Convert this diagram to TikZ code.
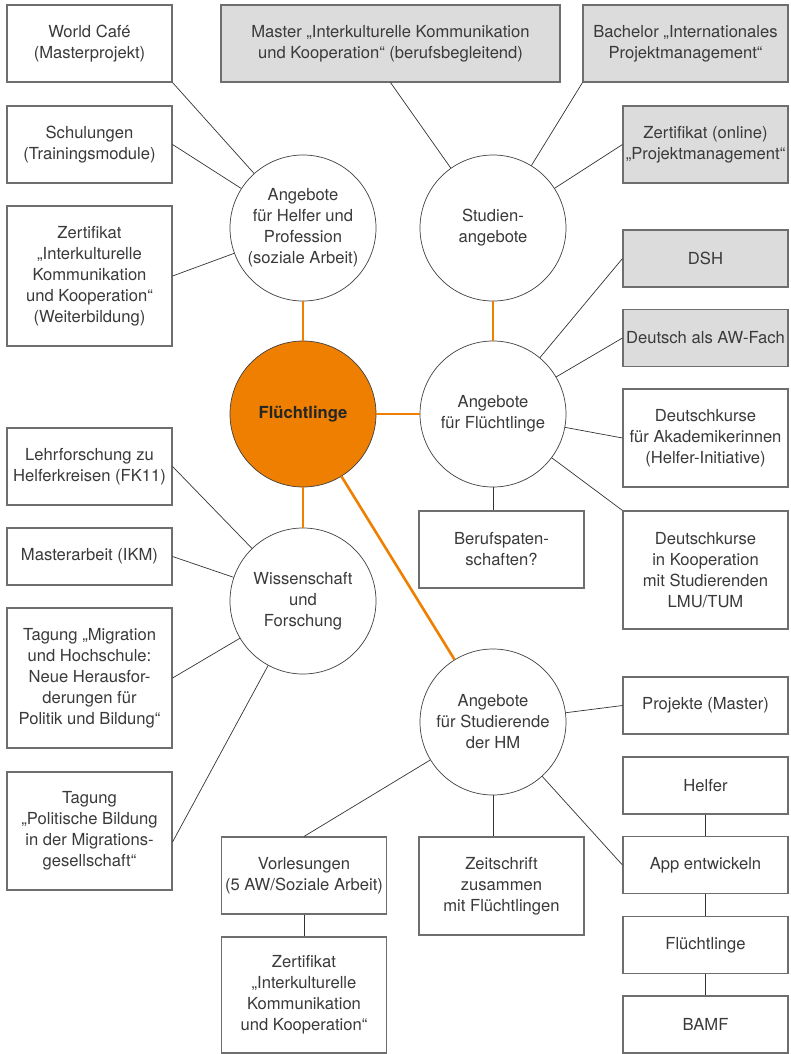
\documentclass[tikz,border=0pt]{standalone}
\usepackage{fontspec}
\setmainfont{TeX Gyre Heros}
\definecolor{hmorange}{HTML}{EE7F00}
\definecolor{txtgray}{HTML}{3A3A3A}
\definecolor{boxfill}{HTML}{DCDCDC}
\definecolor{boxline}{HTML}{6E6E6E}
\begin{document}
\begin{tikzpicture}[x=1pt,y=-1pt,
    every node/.style={font=\fontsize{16.6}{21}\selectfont,text=txtgray,align=center,inner sep=0pt},
    box/.style={draw=boxline,line width=1.1pt,fill=white,minimum width=165pt},
    greybox/.style={box,fill=boxfill},
    topic/.style={circle,draw=black!75,line width=0.7pt,fill=white,minimum size=146pt},
    link/.style={black!80,line width=0.7pt},
    hub/.style={hmorange,line width=2.6pt}]
    \useasboundingbox (0,0) rectangle (790,1054);
    % topics
    \node[topic] (helfer) at (303,228) {Angebote\\für Helfer und\\Profession\\(soziale Arbeit)};
    \node[topic] (studien) at (493,228) {Studien-\\angebote};
    \node[topic,fill=hmorange] (fluecht) at (303,414) {\bfseries\color{black!85}Flüchtlinge};
    \node[topic] (afl) at (493,414) {Angebote\\für Flüchtlinge};
    \node[topic] (wiss) at (303,601) {Wissenschaft\\und\\Forschung};
    \node[topic] (stud) at (493,722) {Angebote\\für Studierende\\der HM};
    % left column
    \node[box,minimum height=77pt] (wcafe) at (89.5,43.5) {World Café\\(Masterprojekt)};
    \node[box,minimum height=77pt] (schul) at (89.5,144.5) {Schulungen\\(Trainingsmodule)};
    \node[box,minimum height=140pt] (zweit) at (89.5,276) {Zertifikat\\„Interkulturelle\\Kommunikation\\und Kooperation“\\(Weiterbildung)};
    \node[box,minimum height=77pt] (lehr) at (89.5,466.5) {Lehrforschung zu\\Helferkreisen (FK11)};
    \node[box,minimum height=57pt] (marb) at (89.5,556.5) {Masterarbeit (IKM)};
    \node[box,minimum height=140pt] (tmig) at (89.5,678) {Tagung „Migration\\und Hochschule:\\Neue Herausfor-\\derungen für\\Politik und Bildung“};
    \node[box,minimum height=118pt] (tpol) at (89.5,831) {Tagung\\„Politische Bildung\\in der Migrations-\\gesellschaft“};
    % top row and right column
    \node[greybox,minimum width=339pt,minimum height=77pt] (master) at (390.5,43.5) {Master „Interkulturelle Kommunikation\\und Kooperation“ (berufsbegleitend)};
    \node[greybox,minimum width=205pt,minimum height=77pt] (bach) at (685.5,43.5) {Bachelor „Internationales\\Projektmanagement“};
    \node[greybox,minimum height=77pt] (zonl) at (705.5,144.5) {Zertifikat (online)\\„Projektmanagement“};
    \node[greybox,minimum height=57pt] (dsh) at (705.5,258.5) {DSH};
    \node[greybox,minimum height=57pt] (dawf) at (705.5,338) {Deutsch als AW-Fach};
    \node[box,minimum height=98pt] (dka) at (705.5,438) {Deutschkurse\\für Akademikerinnen\\(Helfer-Initiative)};
    \node[box,minimum height=118pt] (dko) at (705.5,570) {Deutschkurse\\in Kooperation\\mit Studierenden\\LMU/TUM};
    \node[box,minimum height=77pt] (beruf) at (501.5,549.5) {Berufspaten-\\schaften?};
    \node[box,minimum height=57pt] (proj) at (705.5,705.5) {Projekte (Master)};
    \node[box,minimum height=57pt] (helf) at (705.5,785.5) {Helfer};
    \node[box,minimum height=57pt] (app) at (705.5,865) {App entwickeln};
    \node[box,minimum height=57pt] (flbox) at (705.5,945) {Flüchtlinge};
    \node[box,minimum height=57pt] (bamf) at (705.5,1024.5) {BAMF};
    % bottom row
    \node[box,minimum height=77pt] (vorl) at (304,875.5) {Vorlesungen\\(5 AW/Soziale Arbeit)};
    \node[box,minimum height=116pt] (zbot) at (304,995) {Zertifikat\\„Interkulturelle\\Kommunikation\\und Kooperation“};
    \node[box,minimum height=98pt] (zeit) at (501.5,886) {Zeitschrift\\zusammen\\mit Flüchtlingen};
    % orange hub lines
    \draw[hub] (fluecht) -- (helfer);
    \draw[hub] (fluecht) -- (afl);
    \draw[hub] (fluecht) -- (wiss);
    \draw[hub] (fluecht) -- (stud);
    \draw[hub] (studien) -- (afl);
    % thin links
    \draw[link] (wcafe.south east) -- (helfer);
    \draw[link] (schul.east) -- (helfer);
    \draw[link] (zweit.east) -- (helfer);
    \draw[link] (master.south) -- (studien);
    \draw[link] (bach.south west) -- (studien);
    \draw[link] (zonl.west) -- (studien);
    \draw[link] (dsh.west) -- (afl);
    \draw[link] (dawf.west) -- (afl);
    \draw[link] (dka.west) -- (afl);
    \draw[link] (dko.north west) -- (afl);
    \draw[link] (afl.south) -- (afl.south |- beruf.north);
    \draw[link] (lehr.east) -- (wiss);
    \draw[link] (marb.east) -- (wiss);
    \draw[link] (tmig.east) -- (wiss);
    \draw[link] ([yshift=-11pt]tpol.east) -- (wiss);
    \draw[link] (proj.west) -- (stud);
    \draw[link] (app.west) -- (stud);
    \draw[link] (vorl.north) -- (stud);
    \draw[link] (stud.south) -- (stud.south |- zeit.north);
    \draw[link] (vorl) -- (zbot);
    \draw[link] (helf) -- (app);
    \draw[link] (app) -- (flbox);
    \draw[link] (flbox) -- (bamf);
\end{tikzpicture}
\end{document}
